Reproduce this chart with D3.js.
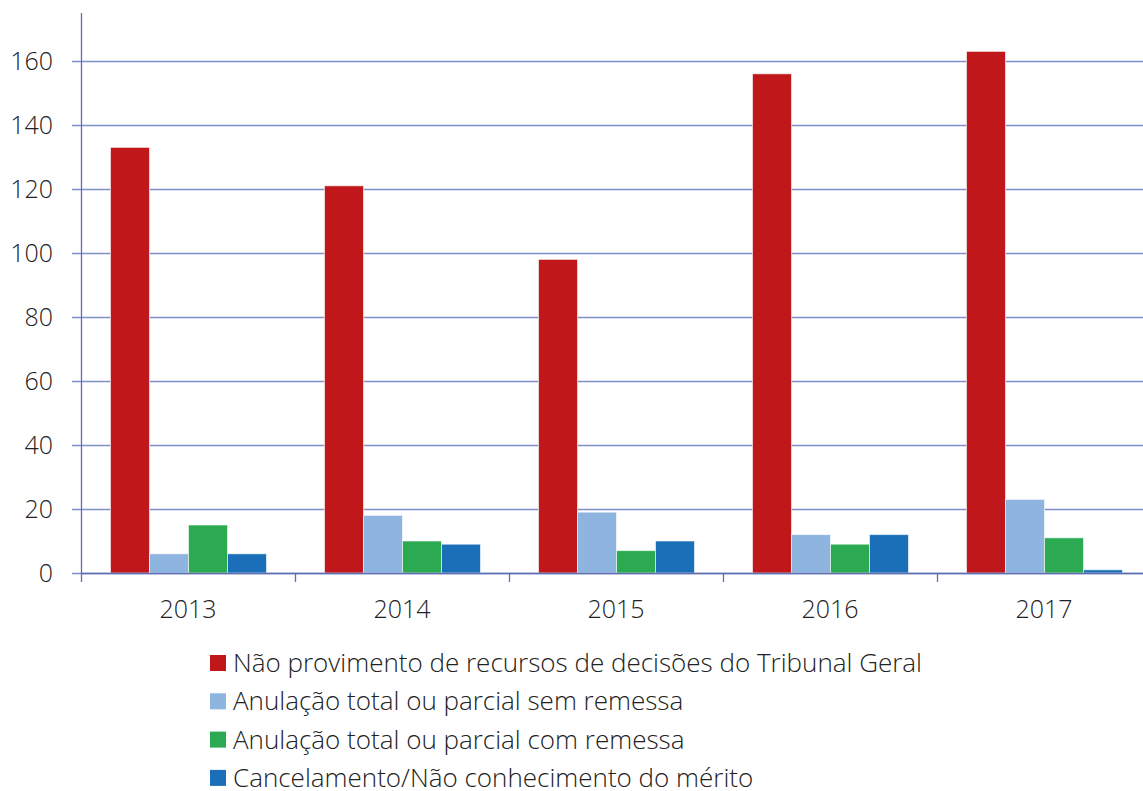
<!DOCTYPE html>
<html>
<head>
<meta charset="utf-8">
<script src="https://cdn.jsdelivr.net/npm/d3@7"></script>
<style>
  body { margin: 0; background: #fff; }
  text { font-family: "Open Sans", sans-serif; font-weight: 300; fill: #222; }
</style>
</head>
<body>
<svg width="1143" height="791"></svg>
<script>
var years = ["2013", "2014", "2015", "2016", "2017"];
var seriesNames = [
  "Não provimento de recursos de decisões do Tribunal Geral",
  "Anulação total ou parcial sem remessa",
  "Anulação total ou parcial com remessa",
  "Cancelamento/Não conhecimento do mérito"
];
var naoProvimento = [133, 121, 98, 156, 163];
var semRemessa = [6, 18, 19, 12, 23];
var comRemessa = [15, 10, 7, 9, 11];
var cancelamento = [6, 9, 10, 12, 1];
var yTicks = [0, 20, 40, 60, 80, 100, 120, 140, 160];
var colors = ["#C0181A", "#8EB4E0", "#2BAA52", "#1A6FB8"];

var allSeries = [naoProvimento, semRemessa, comRemessa, cancelamento];
var gridColor = "#7F8EC6";
var axisColor = "#5C6DB0";

var svg = d3.select("svg");
var plotLeft = 81, plotRight = 1151, plotTop = 13, plotBottom = 573;

var x = d3.scaleBand().domain(years).range([plotLeft, plotRight]);
var y = d3.scaleLinear().domain([0, 175]).range([plotBottom, plotTop]);
var xSub = d3.scaleBand().domain(d3.range(allSeries.length))
  .range([29.5, 29.5 + 156]);

// gridlines
svg.append("g").selectAll("line")
  .data(yTicks).enter()
  .append("line")
  .attr("x1", plotLeft - 9).attr("x2", plotRight)
  .attr("y1", function(d) { return Math.round(y(d)) + 0.5; })
  .attr("y2", function(d) { return Math.round(y(d)) + 0.5; })
  .attr("stroke", gridColor).attr("stroke-width", 1.4);

// y labels
svg.append("g").selectAll("text")
  .data(yTicks).enter()
  .append("text")
  .attr("x", 53)
  .attr("y", function(d) { return y(d); })
  .attr("dy", "0.35em")
  .attr("text-anchor", "end")
  .attr("font-size", "25px")
  .text(function(d) { return d; });

// bars
var groups = svg.append("g").selectAll("g")
  .data(years).enter()
  .append("g")
  .attr("transform", function(d) { return "translate(" + x(d) + ",0)"; });

groups.selectAll("rect")
  .data(function(d, i) {
    return allSeries.map(function(s, j) { return { k: j, v: s[i] }; });
  })
  .enter().append("rect")
  .attr("x", function(d) { return xSub(d.k); })
  .attr("width", xSub.bandwidth())
  .attr("y", function(d) { return y(d.v); })
  .attr("height", function(d) { return plotBottom - y(d.v); })
  .attr("fill", function(d) { return colors[d.k]; })
  .attr("stroke", "rgba(255,255,255,0.6)")
  .attr("stroke-width", 1);

// axes lines
svg.append("line")
  .attr("x1", plotLeft + 0.5).attr("x2", plotLeft + 0.5)
  .attr("y1", plotTop).attr("y2", plotBottom + 9)
  .attr("stroke", axisColor).attr("stroke-width", 1.3);
svg.append("line")
  .attr("x1", plotLeft).attr("x2", plotRight)
  .attr("y1", plotBottom + 0.5).attr("y2", plotBottom + 0.5)
  .attr("stroke", axisColor).attr("stroke-width", 1.6);

// x ticks
svg.append("g").selectAll("line")
  .data(years.slice(1)).enter()
  .append("line")
  .attr("x1", function(d) { return Math.round(x(d)) + 0.5; })
  .attr("x2", function(d) { return Math.round(x(d)) + 0.5; })
  .attr("y1", plotBottom).attr("y2", plotBottom + 9)
  .attr("stroke", axisColor).attr("stroke-width", 1.3);

// x labels
svg.append("g").selectAll("text")
  .data(years).enter()
  .append("text")
  .attr("x", function(d) { return x(d) + x.bandwidth() / 2; })
  .attr("y", 609)
  .attr("dy", "0.35em")
  .attr("text-anchor", "middle")
  .attr("font-size", "25px")
  .text(function(d) { return d; });

// legend
var legend = svg.append("g").selectAll("g")
  .data(seriesNames).enter()
  .append("g")
  .attr("transform", function(d, i) { return "translate(210," + (663 + i * 38.3) + ")"; });

legend.append("rect")
  .attr("x", 0).attr("y", -8)
  .attr("width", 16).attr("height", 16)
  .attr("fill", function(d, i) { return colors[i]; });

legend.append("text")
  .attr("x", 23).attr("y", 0)
  .attr("dy", "0.35em")
  .attr("font-size", "26px")
  .text(function(d) { return d; });
</script>
</body>
</html>
